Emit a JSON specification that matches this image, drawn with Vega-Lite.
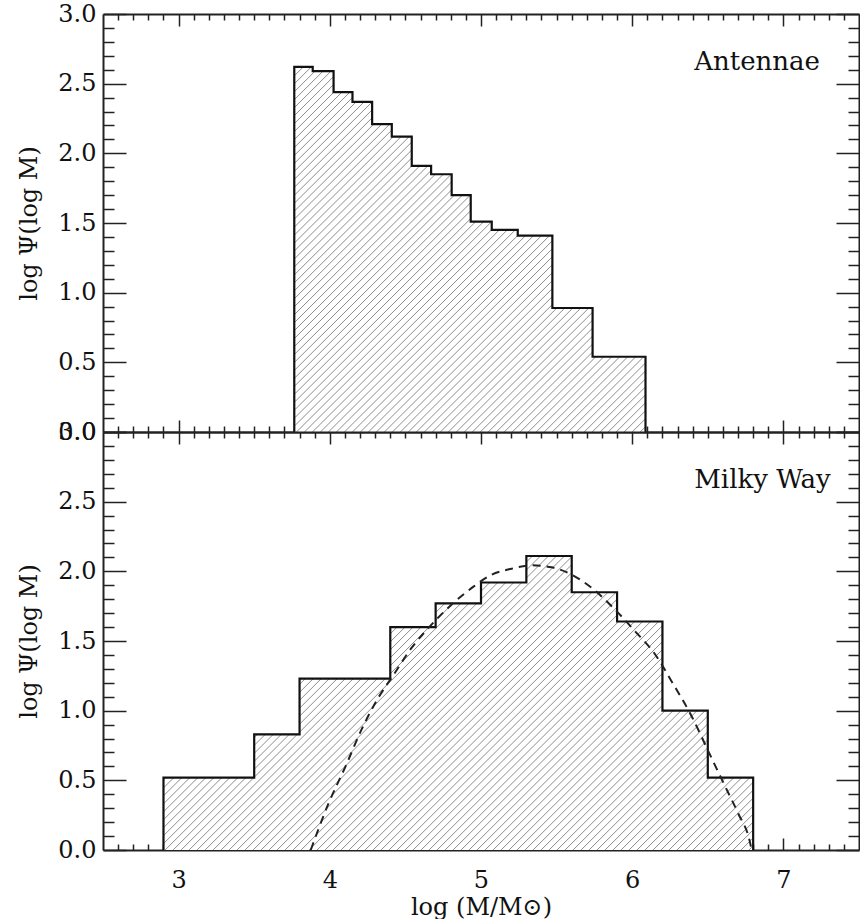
{
"$schema": "https://vega.github.io/schema/vega-lite/v6.json",
"padding": {"left": 17, "top": 2, "right": 0, "bottom": 0},
"background": "white",
"spacing": 0,
"bounds": "flush",
"config": {
  "view": {"stroke": null},
  "font": "DejaVu Serif",
  "axis": {
    "domainColor": "#222", "domainWidth": 2, "tickColor": "#222", "tickWidth": 1.5,
    "labelFont": "DejaVu Serif", "labelFontSize": 24, "labelColor": "#111",
    "labelOverlap": false, "labelFlush": false, "labelBound": false,
    "titleFont": "DejaVu Serif", "titleFontSize": 24, "titleFontWeight": "normal", "titleColor": "#111",
    "grid": false
  }
},
"datasets": {
  "antennae": [
    {"edge":3.765,"psi":0},{"edge":3.765,"psi":2.62},{"edge":3.887,"psi":2.59},{"edge":4.025,"psi":2.44},
    {"edge":4.15,"psi":2.37},{"edge":4.28,"psi":2.21},{"edge":4.41,"psi":2.12},{"edge":4.542,"psi":1.91},
    {"edge":4.67,"psi":1.85},{"edge":4.806,"psi":1.70},{"edge":4.932,"psi":1.51},{"edge":5.071,"psi":1.45},
    {"edge":5.243,"psi":1.41},{"edge":5.472,"psi":0.89},{"edge":5.738,"psi":0.54},{"edge":6.088,"psi":0}
  ],
  "milkyway": [
    {"edge":2.9,"psi":0},{"edge":2.9,"psi":0.52},{"edge":3.5,"psi":0.83},{"edge":3.8,"psi":1.23},
    {"edge":4.4,"psi":1.6},{"edge":4.7,"psi":1.77},{"edge":5.0,"psi":1.92},{"edge":5.3,"psi":2.11},
    {"edge":5.6,"psi":1.85},{"edge":5.9,"psi":1.64},{"edge":6.2,"psi":1.0},{"edge":6.5,"psi":0.52},
    {"edge":6.8,"psi":0}
  ],
  "fit": [
    {"x":3.874,"y":0},{"x":3.991,"y":0.333},{"x":4.102,"y":0.595},{"x":4.212,"y":0.869},{"x":4.322,"y":1.095},
    {"x":4.41,"y":1.238},{"x":4.542,"y":1.452},{"x":4.674,"y":1.619},{"x":4.806,"y":1.762},{"x":4.939,"y":1.881},
    {"x":5.071,"y":1.976},{"x":5.203,"y":2.019},{"x":5.335,"y":2.043},{"x":5.467,"y":2.029},{"x":5.599,"y":1.976},
    {"x":5.732,"y":1.881},{"x":5.864,"y":1.75},{"x":6.018,"y":1.571},{"x":6.151,"y":1.405},{"x":6.261,"y":1.21},
    {"x":6.393,"y":0.96},{"x":6.503,"y":0.71},{"x":6.613,"y":0.46},{"x":6.701,"y":0.262},{"x":6.778,"y":0.06},
    {"x":6.79,"y":0}
  ]
},
"vconcat": [
{
  "width": 756, "height": 418,
  "layer": [
    {
      "data": {"name": "antennae"},
      "mark": {"type": "area", "interpolate": "step-after", "fillOpacity": 1, "stroke": null,
        "fill": {"gradient": "linear", "x1": 0, "y1": 0, "x2": 1.3618, "y2": 1.421, "stops": [
{"offset":0,"color":"#fff"},{"offset":0.001,"color":"#8c8c8c"},{"offset":0.002,"color":"#fff"},
{"offset":0.008,"color":"#fff"},{"offset":0.009,"color":"#8c8c8c"},{"offset":0.01,"color":"#fff"},
{"offset":0.016,"color":"#fff"},{"offset":0.017,"color":"#8c8c8c"},{"offset":0.018,"color":"#fff"},
{"offset":0.024,"color":"#fff"},{"offset":0.025,"color":"#8c8c8c"},{"offset":0.026,"color":"#fff"},
{"offset":0.032,"color":"#fff"},{"offset":0.033,"color":"#8c8c8c"},{"offset":0.034,"color":"#fff"},
{"offset":0.04,"color":"#fff"},{"offset":0.041,"color":"#8c8c8c"},{"offset":0.042,"color":"#fff"},
{"offset":0.048,"color":"#fff"},{"offset":0.049,"color":"#8c8c8c"},{"offset":0.05,"color":"#fff"},
{"offset":0.056,"color":"#fff"},{"offset":0.057,"color":"#8c8c8c"},{"offset":0.058,"color":"#fff"},
{"offset":0.064,"color":"#fff"},{"offset":0.065,"color":"#8c8c8c"},{"offset":0.066,"color":"#fff"},
{"offset":0.072,"color":"#fff"},{"offset":0.073,"color":"#8c8c8c"},{"offset":0.074,"color":"#fff"},
{"offset":0.08,"color":"#fff"},{"offset":0.081,"color":"#8c8c8c"},{"offset":0.082,"color":"#fff"},
{"offset":0.088,"color":"#fff"},{"offset":0.089,"color":"#8c8c8c"},{"offset":0.09,"color":"#fff"},
{"offset":0.096,"color":"#fff"},{"offset":0.097,"color":"#8c8c8c"},{"offset":0.098,"color":"#fff"},
{"offset":0.104,"color":"#fff"},{"offset":0.105,"color":"#8c8c8c"},{"offset":0.106,"color":"#fff"},
{"offset":0.112,"color":"#fff"},{"offset":0.113,"color":"#8c8c8c"},{"offset":0.114,"color":"#fff"},
{"offset":0.12,"color":"#fff"},{"offset":0.121,"color":"#8c8c8c"},{"offset":0.122,"color":"#fff"},
{"offset":0.128,"color":"#fff"},{"offset":0.129,"color":"#8c8c8c"},{"offset":0.13,"color":"#fff"},
{"offset":0.136,"color":"#fff"},{"offset":0.137,"color":"#8c8c8c"},{"offset":0.138,"color":"#fff"},
{"offset":0.144,"color":"#fff"},{"offset":0.145,"color":"#8c8c8c"},{"offset":0.146,"color":"#fff"},
{"offset":0.152,"color":"#fff"},{"offset":0.153,"color":"#8c8c8c"},{"offset":0.154,"color":"#fff"},
{"offset":0.16,"color":"#fff"},{"offset":0.161,"color":"#8c8c8c"},{"offset":0.162,"color":"#fff"},
{"offset":0.168,"color":"#fff"},{"offset":0.169,"color":"#8c8c8c"},{"offset":0.17,"color":"#fff"},
{"offset":0.176,"color":"#fff"},{"offset":0.177,"color":"#8c8c8c"},{"offset":0.178,"color":"#fff"},
{"offset":0.184,"color":"#fff"},{"offset":0.185,"color":"#8c8c8c"},{"offset":0.186,"color":"#fff"},
{"offset":0.192,"color":"#fff"},{"offset":0.193,"color":"#8c8c8c"},{"offset":0.194,"color":"#fff"},
{"offset":0.2,"color":"#fff"},{"offset":0.201,"color":"#8c8c8c"},{"offset":0.202,"color":"#fff"},
{"offset":0.208,"color":"#fff"},{"offset":0.209,"color":"#8c8c8c"},{"offset":0.21,"color":"#fff"},
{"offset":0.216,"color":"#fff"},{"offset":0.217,"color":"#8c8c8c"},{"offset":0.218,"color":"#fff"},
{"offset":0.224,"color":"#fff"},{"offset":0.225,"color":"#8c8c8c"},{"offset":0.226,"color":"#fff"},
{"offset":0.232,"color":"#fff"},{"offset":0.233,"color":"#8c8c8c"},{"offset":0.234,"color":"#fff"},
{"offset":0.24,"color":"#fff"},{"offset":0.241,"color":"#8c8c8c"},{"offset":0.242,"color":"#fff"},
{"offset":0.248,"color":"#fff"},{"offset":0.249,"color":"#8c8c8c"},{"offset":0.25,"color":"#fff"},
{"offset":0.256,"color":"#fff"},{"offset":0.257,"color":"#8c8c8c"},{"offset":0.258,"color":"#fff"},
{"offset":0.264,"color":"#fff"},{"offset":0.265,"color":"#8c8c8c"},{"offset":0.266,"color":"#fff"},
{"offset":0.272,"color":"#fff"},{"offset":0.273,"color":"#8c8c8c"},{"offset":0.274,"color":"#fff"},
{"offset":0.28,"color":"#fff"},{"offset":0.281,"color":"#8c8c8c"},{"offset":0.282,"color":"#fff"},
{"offset":0.288,"color":"#fff"},{"offset":0.289,"color":"#8c8c8c"},{"offset":0.29,"color":"#fff"},
{"offset":0.296,"color":"#fff"},{"offset":0.297,"color":"#8c8c8c"},{"offset":0.298,"color":"#fff"},
{"offset":0.304,"color":"#fff"},{"offset":0.305,"color":"#8c8c8c"},{"offset":0.306,"color":"#fff"},
{"offset":0.312,"color":"#fff"},{"offset":0.313,"color":"#8c8c8c"},{"offset":0.314,"color":"#fff"},
{"offset":0.32,"color":"#fff"},{"offset":0.321,"color":"#8c8c8c"},{"offset":0.322,"color":"#fff"},
{"offset":0.328,"color":"#fff"},{"offset":0.329,"color":"#8c8c8c"},{"offset":0.33,"color":"#fff"},
{"offset":0.336,"color":"#fff"},{"offset":0.337,"color":"#8c8c8c"},{"offset":0.338,"color":"#fff"},
{"offset":0.344,"color":"#fff"},{"offset":0.345,"color":"#8c8c8c"},{"offset":0.346,"color":"#fff"},
{"offset":0.352,"color":"#fff"},{"offset":0.353,"color":"#8c8c8c"},{"offset":0.354,"color":"#fff"},
{"offset":0.36,"color":"#fff"},{"offset":0.361,"color":"#8c8c8c"},{"offset":0.362,"color":"#fff"},
{"offset":0.368,"color":"#fff"},{"offset":0.369,"color":"#8c8c8c"},{"offset":0.37,"color":"#fff"},
{"offset":0.376,"color":"#fff"},{"offset":0.377,"color":"#8c8c8c"},{"offset":0.378,"color":"#fff"},
{"offset":0.384,"color":"#fff"},{"offset":0.385,"color":"#8c8c8c"},{"offset":0.386,"color":"#fff"},
{"offset":0.392,"color":"#fff"},{"offset":0.393,"color":"#8c8c8c"},{"offset":0.394,"color":"#fff"},
{"offset":0.4,"color":"#fff"},{"offset":0.401,"color":"#8c8c8c"},{"offset":0.402,"color":"#fff"},
{"offset":0.408,"color":"#fff"},{"offset":0.409,"color":"#8c8c8c"},{"offset":0.41,"color":"#fff"},
{"offset":0.416,"color":"#fff"},{"offset":0.417,"color":"#8c8c8c"},{"offset":0.418,"color":"#fff"},
{"offset":0.424,"color":"#fff"},{"offset":0.425,"color":"#8c8c8c"},{"offset":0.426,"color":"#fff"},
{"offset":0.432,"color":"#fff"},{"offset":0.433,"color":"#8c8c8c"},{"offset":0.434,"color":"#fff"},
{"offset":0.44,"color":"#fff"},{"offset":0.441,"color":"#8c8c8c"},{"offset":0.442,"color":"#fff"},
{"offset":0.448,"color":"#fff"},{"offset":0.449,"color":"#8c8c8c"},{"offset":0.45,"color":"#fff"},
{"offset":0.456,"color":"#fff"},{"offset":0.457,"color":"#8c8c8c"},{"offset":0.458,"color":"#fff"},
{"offset":0.464,"color":"#fff"},{"offset":0.465,"color":"#8c8c8c"},{"offset":0.466,"color":"#fff"},
{"offset":0.472,"color":"#fff"},{"offset":0.473,"color":"#8c8c8c"},{"offset":0.474,"color":"#fff"},
{"offset":0.48,"color":"#fff"},{"offset":0.481,"color":"#8c8c8c"},{"offset":0.482,"color":"#fff"},
{"offset":0.488,"color":"#fff"},{"offset":0.489,"color":"#8c8c8c"},{"offset":0.49,"color":"#fff"},
{"offset":0.496,"color":"#fff"},{"offset":0.497,"color":"#8c8c8c"},{"offset":0.498,"color":"#fff"},
{"offset":0.504,"color":"#fff"},{"offset":0.505,"color":"#8c8c8c"},{"offset":0.506,"color":"#fff"},
{"offset":0.512,"color":"#fff"},{"offset":0.513,"color":"#8c8c8c"},{"offset":0.514,"color":"#fff"},
{"offset":0.52,"color":"#fff"},{"offset":0.521,"color":"#8c8c8c"},{"offset":0.522,"color":"#fff"},
{"offset":0.528,"color":"#fff"},{"offset":0.529,"color":"#8c8c8c"},{"offset":0.53,"color":"#fff"},
{"offset":0.536,"color":"#fff"},{"offset":0.537,"color":"#8c8c8c"},{"offset":0.538,"color":"#fff"},
{"offset":0.544,"color":"#fff"},{"offset":0.545,"color":"#8c8c8c"},{"offset":0.546,"color":"#fff"},
{"offset":0.552,"color":"#fff"},{"offset":0.553,"color":"#8c8c8c"},{"offset":0.554,"color":"#fff"},
{"offset":0.56,"color":"#fff"},{"offset":0.561,"color":"#8c8c8c"},{"offset":0.562,"color":"#fff"},
{"offset":0.568,"color":"#fff"},{"offset":0.569,"color":"#8c8c8c"},{"offset":0.57,"color":"#fff"},
{"offset":0.576,"color":"#fff"},{"offset":0.577,"color":"#8c8c8c"},{"offset":0.578,"color":"#fff"},
{"offset":0.584,"color":"#fff"},{"offset":0.585,"color":"#8c8c8c"},{"offset":0.586,"color":"#fff"},
{"offset":0.592,"color":"#fff"},{"offset":0.593,"color":"#8c8c8c"},{"offset":0.594,"color":"#fff"},
{"offset":0.6,"color":"#fff"},{"offset":0.601,"color":"#8c8c8c"},{"offset":0.602,"color":"#fff"},
{"offset":0.608,"color":"#fff"},{"offset":0.609,"color":"#8c8c8c"},{"offset":0.61,"color":"#fff"},
{"offset":0.616,"color":"#fff"},{"offset":0.617,"color":"#8c8c8c"},{"offset":0.618,"color":"#fff"},
{"offset":0.624,"color":"#fff"},{"offset":0.625,"color":"#8c8c8c"},{"offset":0.626,"color":"#fff"},
{"offset":0.632,"color":"#fff"},{"offset":0.633,"color":"#8c8c8c"},{"offset":0.634,"color":"#fff"},
{"offset":0.64,"color":"#fff"},{"offset":0.641,"color":"#8c8c8c"},{"offset":0.642,"color":"#fff"},
{"offset":0.648,"color":"#fff"},{"offset":0.649,"color":"#8c8c8c"},{"offset":0.65,"color":"#fff"},
{"offset":0.656,"color":"#fff"},{"offset":0.657,"color":"#8c8c8c"},{"offset":0.658,"color":"#fff"},
{"offset":0.664,"color":"#fff"},{"offset":0.665,"color":"#8c8c8c"},{"offset":0.666,"color":"#fff"},
{"offset":0.672,"color":"#fff"},{"offset":0.673,"color":"#8c8c8c"},{"offset":0.674,"color":"#fff"},
{"offset":0.68,"color":"#fff"},{"offset":0.681,"color":"#8c8c8c"},{"offset":0.682,"color":"#fff"},
{"offset":0.688,"color":"#fff"},{"offset":0.689,"color":"#8c8c8c"},{"offset":0.69,"color":"#fff"},
{"offset":0.696,"color":"#fff"},{"offset":0.697,"color":"#8c8c8c"},{"offset":0.698,"color":"#fff"},
{"offset":0.704,"color":"#fff"},{"offset":0.705,"color":"#8c8c8c"},{"offset":0.706,"color":"#fff"},
{"offset":0.712,"color":"#fff"},{"offset":0.713,"color":"#8c8c8c"},{"offset":0.714,"color":"#fff"},
{"offset":0.72,"color":"#fff"},{"offset":0.721,"color":"#8c8c8c"},{"offset":0.722,"color":"#fff"}
        ]}},
      "encoding": {
        "x": {"field": "edge", "type": "quantitative", "scale": {"domain": [2.5, 7.5], "nice": false, "zero": false},
          "axis": {"orient": "bottom", "labels": false, "title": null,
            "values": [2.6,2.7,2.8,2.9,3,3.1,3.2,3.3,3.4,3.5,3.6,3.7,3.8,3.9,4,4.1,4.2,4.3,4.4,4.5,4.6,4.7,4.8,4.9,5,5.1,5.2,5.3,5.4,5.5,5.6,5.7,5.8,5.9,6,6.1,6.2,6.3,6.4,6.5,6.6,6.7,6.8,6.9,7,7.1,7.2,7.3,7.4],
            "tickSize": {"condition": {"test": "abs(datum.value - round(datum.value)) < 0.001", "value": -12}, "value": -6}}},
        "y": {"field": "psi", "type": "quantitative", "stack": null, "scale": {"domain": [0, 3], "nice": false},
          "axis": {"orient": "left", "title": "log Ψ(log M)", "titlePadding": 16, "labelPadding": 30,
            "values": [0,0.1,0.2,0.3,0.4,0.5,0.6,0.7,0.8,0.9,1,1.1,1.2,1.3,1.4,1.5,1.6,1.7,1.8,1.9,2,2.1,2.2,2.3,2.4,2.5,2.6,2.7,2.8,2.9,3],
            "labelExpr": "abs(datum.value*2 - round(datum.value*2)) < 0.001 ? format(datum.value, '.1f') : ''",
            "tickSize": {"condition": {"test": "abs(datum.value*2 - round(datum.value*2)) < 0.001", "value": -23}, "value": -11}}}
      }
    },
    {
      "data": {"name": "antennae"},
      "mark": {"type": "line", "interpolate": "step-after", "color": "#111", "strokeWidth": 2.2},
      "encoding": {
        "x": {"field": "edge", "type": "quantitative", "scale": {"domain": [2.5, 7.5], "nice": false, "zero": false},
          "axis": {"orient": "top", "labels": false, "title": null,
            "values": [2.6,2.7,2.8,2.9,3,3.1,3.2,3.3,3.4,3.5,3.6,3.7,3.8,3.9,4,4.1,4.2,4.3,4.4,4.5,4.6,4.7,4.8,4.9,5,5.1,5.2,5.3,5.4,5.5,5.6,5.7,5.8,5.9,6,6.1,6.2,6.3,6.4,6.5,6.6,6.7,6.8,6.9,7,7.1,7.2,7.3,7.4],
            "tickSize": {"condition": {"test": "abs(datum.value - round(datum.value)) < 0.001", "value": -12}, "value": -6}}},
        "y": {"field": "psi", "type": "quantitative", "stack": null, "scale": {"domain": [0, 3], "nice": false},
          "axis": {"orient": "right", "labels": false, "title": null,
            "values": [0,0.1,0.2,0.3,0.4,0.5,0.6,0.7,0.8,0.9,1,1.1,1.2,1.3,1.4,1.5,1.6,1.7,1.8,1.9,2,2.1,2.2,2.3,2.4,2.5,2.6,2.7,2.8,2.9,3],
            "tickSize": {"condition": {"test": "abs(datum.value*2 - round(datum.value*2)) < 0.001", "value": -23}, "value": -11}}}
      }
    },
    {
      "data": {"values": [{"name": "Antennae"}]},
      "mark": {"type": "text", "align": "left", "baseline": "alphabetic", "fontSize": 26, "font": "DejaVu Serif", "color": "#111"},
      "encoding": {
        "x": {"datum": 6.41, "type": "quantitative", "scale": {"domain": [2.5, 7.5], "nice": false, "zero": false}, "axis": null},
        "y": {"datum": 2.595, "type": "quantitative", "scale": {"domain": [0, 3], "nice": false}, "axis": null},
        "text": {"field": "name"}
      }
    }
  ],
  "resolve": {"axis": {"x": "independent", "y": "independent"}}
},
{
  "width": 756, "height": 418,
  "layer": [
    {
      "data": {"name": "milkyway"},
      "mark": {"type": "area", "interpolate": "step-after", "fillOpacity": 1, "stroke": null,
        "fill": {"gradient": "linear", "x1": 0, "y1": 0, "x2": 1.3556, "y2": 0.679, "stops": [
{"offset":0,"color":"#fff"},{"offset":0.001,"color":"#8c8c8c"},{"offset":0.002,"color":"#fff"},
{"offset":0.008,"color":"#fff"},{"offset":0.009,"color":"#8c8c8c"},{"offset":0.01,"color":"#fff"},
{"offset":0.016,"color":"#fff"},{"offset":0.017,"color":"#8c8c8c"},{"offset":0.018,"color":"#fff"},
{"offset":0.024,"color":"#fff"},{"offset":0.025,"color":"#8c8c8c"},{"offset":0.026,"color":"#fff"},
{"offset":0.032,"color":"#fff"},{"offset":0.033,"color":"#8c8c8c"},{"offset":0.034,"color":"#fff"},
{"offset":0.04,"color":"#fff"},{"offset":0.041,"color":"#8c8c8c"},{"offset":0.042,"color":"#fff"},
{"offset":0.048,"color":"#fff"},{"offset":0.049,"color":"#8c8c8c"},{"offset":0.05,"color":"#fff"},
{"offset":0.056,"color":"#fff"},{"offset":0.057,"color":"#8c8c8c"},{"offset":0.058,"color":"#fff"},
{"offset":0.064,"color":"#fff"},{"offset":0.065,"color":"#8c8c8c"},{"offset":0.066,"color":"#fff"},
{"offset":0.072,"color":"#fff"},{"offset":0.073,"color":"#8c8c8c"},{"offset":0.074,"color":"#fff"},
{"offset":0.08,"color":"#fff"},{"offset":0.081,"color":"#8c8c8c"},{"offset":0.082,"color":"#fff"},
{"offset":0.088,"color":"#fff"},{"offset":0.089,"color":"#8c8c8c"},{"offset":0.09,"color":"#fff"},
{"offset":0.096,"color":"#fff"},{"offset":0.097,"color":"#8c8c8c"},{"offset":0.098,"color":"#fff"},
{"offset":0.104,"color":"#fff"},{"offset":0.105,"color":"#8c8c8c"},{"offset":0.106,"color":"#fff"},
{"offset":0.112,"color":"#fff"},{"offset":0.113,"color":"#8c8c8c"},{"offset":0.114,"color":"#fff"},
{"offset":0.12,"color":"#fff"},{"offset":0.121,"color":"#8c8c8c"},{"offset":0.122,"color":"#fff"},
{"offset":0.128,"color":"#fff"},{"offset":0.129,"color":"#8c8c8c"},{"offset":0.13,"color":"#fff"},
{"offset":0.136,"color":"#fff"},{"offset":0.137,"color":"#8c8c8c"},{"offset":0.138,"color":"#fff"},
{"offset":0.144,"color":"#fff"},{"offset":0.145,"color":"#8c8c8c"},{"offset":0.146,"color":"#fff"},
{"offset":0.152,"color":"#fff"},{"offset":0.153,"color":"#8c8c8c"},{"offset":0.154,"color":"#fff"},
{"offset":0.16,"color":"#fff"},{"offset":0.161,"color":"#8c8c8c"},{"offset":0.162,"color":"#fff"},
{"offset":0.168,"color":"#fff"},{"offset":0.169,"color":"#8c8c8c"},{"offset":0.17,"color":"#fff"},
{"offset":0.176,"color":"#fff"},{"offset":0.177,"color":"#8c8c8c"},{"offset":0.178,"color":"#fff"},
{"offset":0.184,"color":"#fff"},{"offset":0.185,"color":"#8c8c8c"},{"offset":0.186,"color":"#fff"},
{"offset":0.192,"color":"#fff"},{"offset":0.193,"color":"#8c8c8c"},{"offset":0.194,"color":"#fff"},
{"offset":0.2,"color":"#fff"},{"offset":0.201,"color":"#8c8c8c"},{"offset":0.202,"color":"#fff"},
{"offset":0.208,"color":"#fff"},{"offset":0.209,"color":"#8c8c8c"},{"offset":0.21,"color":"#fff"},
{"offset":0.216,"color":"#fff"},{"offset":0.217,"color":"#8c8c8c"},{"offset":0.218,"color":"#fff"},
{"offset":0.224,"color":"#fff"},{"offset":0.225,"color":"#8c8c8c"},{"offset":0.226,"color":"#fff"},
{"offset":0.232,"color":"#fff"},{"offset":0.233,"color":"#8c8c8c"},{"offset":0.234,"color":"#fff"},
{"offset":0.24,"color":"#fff"},{"offset":0.241,"color":"#8c8c8c"},{"offset":0.242,"color":"#fff"},
{"offset":0.248,"color":"#fff"},{"offset":0.249,"color":"#8c8c8c"},{"offset":0.25,"color":"#fff"},
{"offset":0.256,"color":"#fff"},{"offset":0.257,"color":"#8c8c8c"},{"offset":0.258,"color":"#fff"},
{"offset":0.264,"color":"#fff"},{"offset":0.265,"color":"#8c8c8c"},{"offset":0.266,"color":"#fff"},
{"offset":0.272,"color":"#fff"},{"offset":0.273,"color":"#8c8c8c"},{"offset":0.274,"color":"#fff"},
{"offset":0.28,"color":"#fff"},{"offset":0.281,"color":"#8c8c8c"},{"offset":0.282,"color":"#fff"},
{"offset":0.288,"color":"#fff"},{"offset":0.289,"color":"#8c8c8c"},{"offset":0.29,"color":"#fff"},
{"offset":0.296,"color":"#fff"},{"offset":0.297,"color":"#8c8c8c"},{"offset":0.298,"color":"#fff"},
{"offset":0.304,"color":"#fff"},{"offset":0.305,"color":"#8c8c8c"},{"offset":0.306,"color":"#fff"},
{"offset":0.312,"color":"#fff"},{"offset":0.313,"color":"#8c8c8c"},{"offset":0.314,"color":"#fff"},
{"offset":0.32,"color":"#fff"},{"offset":0.321,"color":"#8c8c8c"},{"offset":0.322,"color":"#fff"},
{"offset":0.328,"color":"#fff"},{"offset":0.329,"color":"#8c8c8c"},{"offset":0.33,"color":"#fff"},
{"offset":0.336,"color":"#fff"},{"offset":0.337,"color":"#8c8c8c"},{"offset":0.338,"color":"#fff"},
{"offset":0.344,"color":"#fff"},{"offset":0.345,"color":"#8c8c8c"},{"offset":0.346,"color":"#fff"},
{"offset":0.352,"color":"#fff"},{"offset":0.353,"color":"#8c8c8c"},{"offset":0.354,"color":"#fff"},
{"offset":0.36,"color":"#fff"},{"offset":0.361,"color":"#8c8c8c"},{"offset":0.362,"color":"#fff"},
{"offset":0.368,"color":"#fff"},{"offset":0.369,"color":"#8c8c8c"},{"offset":0.37,"color":"#fff"},
{"offset":0.376,"color":"#fff"},{"offset":0.377,"color":"#8c8c8c"},{"offset":0.378,"color":"#fff"},
{"offset":0.384,"color":"#fff"},{"offset":0.385,"color":"#8c8c8c"},{"offset":0.386,"color":"#fff"},
{"offset":0.392,"color":"#fff"},{"offset":0.393,"color":"#8c8c8c"},{"offset":0.394,"color":"#fff"},
{"offset":0.4,"color":"#fff"},{"offset":0.401,"color":"#8c8c8c"},{"offset":0.402,"color":"#fff"},
{"offset":0.408,"color":"#fff"},{"offset":0.409,"color":"#8c8c8c"},{"offset":0.41,"color":"#fff"},
{"offset":0.416,"color":"#fff"},{"offset":0.417,"color":"#8c8c8c"},{"offset":0.418,"color":"#fff"},
{"offset":0.424,"color":"#fff"},{"offset":0.425,"color":"#8c8c8c"},{"offset":0.426,"color":"#fff"},
{"offset":0.432,"color":"#fff"},{"offset":0.433,"color":"#8c8c8c"},{"offset":0.434,"color":"#fff"},
{"offset":0.44,"color":"#fff"},{"offset":0.441,"color":"#8c8c8c"},{"offset":0.442,"color":"#fff"},
{"offset":0.448,"color":"#fff"},{"offset":0.449,"color":"#8c8c8c"},{"offset":0.45,"color":"#fff"},
{"offset":0.456,"color":"#fff"},{"offset":0.457,"color":"#8c8c8c"},{"offset":0.458,"color":"#fff"},
{"offset":0.464,"color":"#fff"},{"offset":0.465,"color":"#8c8c8c"},{"offset":0.466,"color":"#fff"},
{"offset":0.472,"color":"#fff"},{"offset":0.473,"color":"#8c8c8c"},{"offset":0.474,"color":"#fff"},
{"offset":0.48,"color":"#fff"},{"offset":0.481,"color":"#8c8c8c"},{"offset":0.482,"color":"#fff"},
{"offset":0.488,"color":"#fff"},{"offset":0.489,"color":"#8c8c8c"},{"offset":0.49,"color":"#fff"},
{"offset":0.496,"color":"#fff"},{"offset":0.497,"color":"#8c8c8c"},{"offset":0.498,"color":"#fff"},
{"offset":0.504,"color":"#fff"},{"offset":0.505,"color":"#8c8c8c"},{"offset":0.506,"color":"#fff"},
{"offset":0.512,"color":"#fff"},{"offset":0.513,"color":"#8c8c8c"},{"offset":0.514,"color":"#fff"},
{"offset":0.52,"color":"#fff"},{"offset":0.521,"color":"#8c8c8c"},{"offset":0.522,"color":"#fff"},
{"offset":0.528,"color":"#fff"},{"offset":0.529,"color":"#8c8c8c"},{"offset":0.53,"color":"#fff"},
{"offset":0.536,"color":"#fff"},{"offset":0.537,"color":"#8c8c8c"},{"offset":0.538,"color":"#fff"},
{"offset":0.544,"color":"#fff"},{"offset":0.545,"color":"#8c8c8c"},{"offset":0.546,"color":"#fff"},
{"offset":0.552,"color":"#fff"},{"offset":0.553,"color":"#8c8c8c"},{"offset":0.554,"color":"#fff"},
{"offset":0.56,"color":"#fff"},{"offset":0.561,"color":"#8c8c8c"},{"offset":0.562,"color":"#fff"},
{"offset":0.568,"color":"#fff"},{"offset":0.569,"color":"#8c8c8c"},{"offset":0.57,"color":"#fff"},
{"offset":0.576,"color":"#fff"},{"offset":0.577,"color":"#8c8c8c"},{"offset":0.578,"color":"#fff"},
{"offset":0.584,"color":"#fff"},{"offset":0.585,"color":"#8c8c8c"},{"offset":0.586,"color":"#fff"},
{"offset":0.592,"color":"#fff"},{"offset":0.593,"color":"#8c8c8c"},{"offset":0.594,"color":"#fff"},
{"offset":0.6,"color":"#fff"},{"offset":0.601,"color":"#8c8c8c"},{"offset":0.602,"color":"#fff"},
{"offset":0.608,"color":"#fff"},{"offset":0.609,"color":"#8c8c8c"},{"offset":0.61,"color":"#fff"},
{"offset":0.616,"color":"#fff"},{"offset":0.617,"color":"#8c8c8c"},{"offset":0.618,"color":"#fff"},
{"offset":0.624,"color":"#fff"},{"offset":0.625,"color":"#8c8c8c"},{"offset":0.626,"color":"#fff"},
{"offset":0.632,"color":"#fff"},{"offset":0.633,"color":"#8c8c8c"},{"offset":0.634,"color":"#fff"},
{"offset":0.64,"color":"#fff"},{"offset":0.641,"color":"#8c8c8c"},{"offset":0.642,"color":"#fff"},
{"offset":0.648,"color":"#fff"},{"offset":0.649,"color":"#8c8c8c"},{"offset":0.65,"color":"#fff"},
{"offset":0.656,"color":"#fff"},{"offset":0.657,"color":"#8c8c8c"},{"offset":0.658,"color":"#fff"},
{"offset":0.664,"color":"#fff"},{"offset":0.665,"color":"#8c8c8c"},{"offset":0.666,"color":"#fff"},
{"offset":0.672,"color":"#fff"},{"offset":0.673,"color":"#8c8c8c"},{"offset":0.674,"color":"#fff"},
{"offset":0.68,"color":"#fff"},{"offset":0.681,"color":"#8c8c8c"},{"offset":0.682,"color":"#fff"},
{"offset":0.688,"color":"#fff"},{"offset":0.689,"color":"#8c8c8c"},{"offset":0.69,"color":"#fff"},
{"offset":0.696,"color":"#fff"},{"offset":0.697,"color":"#8c8c8c"},{"offset":0.698,"color":"#fff"},
{"offset":0.704,"color":"#fff"},{"offset":0.705,"color":"#8c8c8c"},{"offset":0.706,"color":"#fff"},
{"offset":0.712,"color":"#fff"},{"offset":0.713,"color":"#8c8c8c"},{"offset":0.714,"color":"#fff"},
{"offset":0.72,"color":"#fff"},{"offset":0.721,"color":"#8c8c8c"},{"offset":0.722,"color":"#fff"},
{"offset":0.728,"color":"#fff"},{"offset":0.729,"color":"#8c8c8c"},{"offset":0.73,"color":"#fff"},
{"offset":0.736,"color":"#fff"},{"offset":0.737,"color":"#8c8c8c"},{"offset":0.738,"color":"#fff"},
{"offset":0.744,"color":"#fff"},{"offset":0.745,"color":"#8c8c8c"},{"offset":0.746,"color":"#fff"},
{"offset":0.752,"color":"#fff"},{"offset":0.753,"color":"#8c8c8c"},{"offset":0.754,"color":"#fff"},
{"offset":0.76,"color":"#fff"},{"offset":0.761,"color":"#8c8c8c"},{"offset":0.762,"color":"#fff"},
{"offset":0.768,"color":"#fff"},{"offset":0.769,"color":"#8c8c8c"},{"offset":0.77,"color":"#fff"},
{"offset":0.776,"color":"#fff"},{"offset":0.777,"color":"#8c8c8c"},{"offset":0.778,"color":"#fff"},
{"offset":0.784,"color":"#fff"},{"offset":0.785,"color":"#8c8c8c"},{"offset":0.786,"color":"#fff"},
{"offset":0.792,"color":"#fff"},{"offset":0.793,"color":"#8c8c8c"},{"offset":0.794,"color":"#fff"},
{"offset":0.8,"color":"#fff"},{"offset":0.801,"color":"#8c8c8c"},{"offset":0.802,"color":"#fff"},
{"offset":0.808,"color":"#fff"},{"offset":0.809,"color":"#8c8c8c"},{"offset":0.81,"color":"#fff"},
{"offset":0.816,"color":"#fff"},{"offset":0.817,"color":"#8c8c8c"},{"offset":0.818,"color":"#fff"},
{"offset":0.824,"color":"#fff"},{"offset":0.825,"color":"#8c8c8c"},{"offset":0.826,"color":"#fff"},
{"offset":0.832,"color":"#fff"},{"offset":0.833,"color":"#8c8c8c"},{"offset":0.834,"color":"#fff"},
{"offset":0.84,"color":"#fff"},{"offset":0.841,"color":"#8c8c8c"},{"offset":0.842,"color":"#fff"},
{"offset":0.848,"color":"#fff"},{"offset":0.849,"color":"#8c8c8c"},{"offset":0.85,"color":"#fff"},
{"offset":0.856,"color":"#fff"},{"offset":0.857,"color":"#8c8c8c"},{"offset":0.858,"color":"#fff"},
{"offset":0.864,"color":"#fff"},{"offset":0.865,"color":"#8c8c8c"},{"offset":0.866,"color":"#fff"},
{"offset":0.872,"color":"#fff"},{"offset":0.873,"color":"#8c8c8c"},{"offset":0.874,"color":"#fff"},
{"offset":0.88,"color":"#fff"},{"offset":0.881,"color":"#8c8c8c"},{"offset":0.882,"color":"#fff"}
        ]}},
      "encoding": {
        "x": {"field": "edge", "type": "quantitative", "scale": {"domain": [2.5, 7.5], "nice": false, "zero": false},
          "axis": {"orient": "bottom", "title": "log (M/M⊙)", "titlePadding": -3, "labelPadding": 30,
            "values": [2.6,2.7,2.8,2.9,3,3.1,3.2,3.3,3.4,3.5,3.6,3.7,3.8,3.9,4,4.1,4.2,4.3,4.4,4.5,4.6,4.7,4.8,4.9,5,5.1,5.2,5.3,5.4,5.5,5.6,5.7,5.8,5.9,6,6.1,6.2,6.3,6.4,6.5,6.6,6.7,6.8,6.9,7,7.1,7.2,7.3,7.4],
            "labelExpr": "abs(datum.value - round(datum.value)) < 0.001 ? format(datum.value, 'd') : ''",
            "tickSize": {"condition": {"test": "abs(datum.value - round(datum.value)) < 0.001", "value": -12}, "value": -6}}},
        "y": {"field": "psi", "type": "quantitative", "stack": null, "scale": {"domain": [0, 3], "nice": false},
          "axis": {"orient": "left", "title": "log Ψ(log M)", "titlePadding": 16, "labelPadding": 30,
            "values": [0,0.1,0.2,0.3,0.4,0.5,0.6,0.7,0.8,0.9,1,1.1,1.2,1.3,1.4,1.5,1.6,1.7,1.8,1.9,2,2.1,2.2,2.3,2.4,2.5,2.6,2.7,2.8,2.9,3],
            "labelExpr": "abs(datum.value*2 - round(datum.value*2)) < 0.001 ? format(datum.value, '.1f') : ''",
            "tickSize": {"condition": {"test": "abs(datum.value*2 - round(datum.value*2)) < 0.001", "value": -23}, "value": -11}}}
      }
    },
    {
      "data": {"name": "milkyway"},
      "mark": {"type": "line", "interpolate": "step-after", "color": "#111", "strokeWidth": 2.2},
      "encoding": {
        "x": {"field": "edge", "type": "quantitative", "scale": {"domain": [2.5, 7.5], "nice": false, "zero": false},
          "axis": {"orient": "top", "labels": false, "title": null,
            "values": [2.6,2.7,2.8,2.9,3,3.1,3.2,3.3,3.4,3.5,3.6,3.7,3.8,3.9,4,4.1,4.2,4.3,4.4,4.5,4.6,4.7,4.8,4.9,5,5.1,5.2,5.3,5.4,5.5,5.6,5.7,5.8,5.9,6,6.1,6.2,6.3,6.4,6.5,6.6,6.7,6.8,6.9,7,7.1,7.2,7.3,7.4],
            "tickSize": {"condition": {"test": "abs(datum.value - round(datum.value)) < 0.001", "value": -12}, "value": -6}}},
        "y": {"field": "psi", "type": "quantitative", "stack": null, "scale": {"domain": [0, 3], "nice": false},
          "axis": {"orient": "right", "labels": false, "title": null,
            "values": [0,0.1,0.2,0.3,0.4,0.5,0.6,0.7,0.8,0.9,1,1.1,1.2,1.3,1.4,1.5,1.6,1.7,1.8,1.9,2,2.1,2.2,2.3,2.4,2.5,2.6,2.7,2.8,2.9,3],
            "tickSize": {"condition": {"test": "abs(datum.value*2 - round(datum.value*2)) < 0.001", "value": -23}, "value": -11}}}
      }
    },
    {
      "data": {"name": "fit"},
      "mark": {"type": "line", "interpolate": "monotone", "color": "#222", "strokeWidth": 2, "strokeDash": [8, 6]},
      "encoding": {
        "x": {"field": "x", "type": "quantitative", "scale": {"domain": [2.5, 7.5], "nice": false, "zero": false}, "axis": null},
        "y": {"field": "y", "type": "quantitative", "scale": {"domain": [0, 3], "nice": false}, "axis": null}
      }
    },
    {
      "data": {"values": [{"name": "Milky Way"}]},
      "mark": {"type": "text", "align": "left", "baseline": "alphabetic", "fontSize": 26, "font": "DejaVu Serif", "color": "#111"},
      "encoding": {
        "x": {"datum": 6.41, "type": "quantitative", "scale": {"domain": [2.5, 7.5], "nice": false, "zero": false}, "axis": null},
        "y": {"datum": 2.595, "type": "quantitative", "scale": {"domain": [0, 3], "nice": false}, "axis": null},
        "text": {"field": "name"}
      }
    }
  ],
  "resolve": {"axis": {"x": "independent", "y": "independent"}}
}
]
}
